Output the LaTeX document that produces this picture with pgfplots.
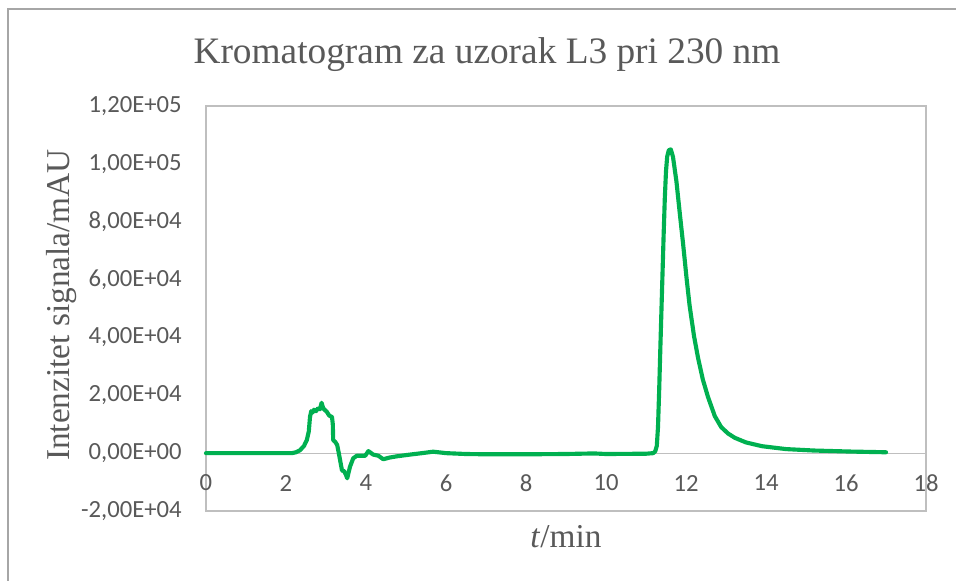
\documentclass[border=0pt]{standalone}
\usepackage{pgfplots}
\pgfplotsset{compat=1.18}
\usepackage{pgfplotstable}
\usepackage{fontspec}
\setmainfont{Liberation Serif}
\newfontfamily\carlito{Carlito}
\definecolor{linegreen}{HTML}{00B050}
\definecolor{axgray}{HTML}{BFBFBF}
\definecolor{txtgray}{HTML}{595959}
\definecolor{framegray}{HTML}{A6A6A6}
\pgfplotstableread{
t val
0 0
1 0
2 0
2.15 0
2.25 300
2.35 1000
2.45 2500
2.52 4500
2.57 7500
2.6 12500
2.63 14500
2.66 14000
2.7 15000
2.75 14500
2.8 15500
2.85 15200
2.89 17400
2.93 15500
2.98 14800
3.02 14300
3.08 13000
3.15 12500
3.17 10000
3.18 4500
3.23 3900
3.28 2800
3.32 0
3.36 -3000
3.40 -6000
3.45 -6200
3.5 -7500
3.53 -8700
3.6 -4700
3.68 -1800
3.77 -900
3.98 -900
4.06 700
4.18 -500
4.31 -900
4.43 -2100
4.6 -1500
4.77 -1100
5.1 -500
5.4 0
5.68 500
6.0 0
6.5 -300
7 -400
8 -400
9 -300
9.7 -100
10 -300
11 -200
11.18 0
11.23 600
11.27 2500
11.30 9000
11.33 22000
11.36 37000
11.40 56000
11.44 75000
11.47 88000
11.50 97500
11.53 102500
11.57 104700
11.62 105000
11.675 102400
11.76 94000
11.84 83500
11.93 72000
12.01 61000
12.09 51000
12.2 40500
12.3 33000
12.42 25500
12.55 19400
12.72 12800
12.88 9000
13.05 6800
13.22 5300
13.5 3700
13.9 2400
14.5 1400
15.2 900
16.1 550
17.0 300
}\chromdata
\begin{document}
\begin{tikzpicture}
\useasboundingbox (-154.5pt,-52.5pt) rectangle (562.5pt,383.25pt);
\draw[framegray, line width=1.1pt] (-148.5pt,-60pt) -- (-148.5pt,376.5pt) -- (570pt,376.5pt);
\begin{axis}[
  at={(0,0)}, anchor=south west,
  scale only axis,
  width=540pt, height=303.75pt,
  xmin=0, xmax=18, ymin=-20000, ymax=120000,
  scaled y ticks=false, scaled x ticks=false,
  axis line style={axgray, line width=0.9pt},
  major tick length=0pt,
  xtick={0,2,4,6,8,10,12,14,16,18},
  xticklabels={0,2,4,6,8,10,12,14,16,18},
  ytick={-20000,0,20000,40000,60000,80000,100000,120000},
  yticklabels={{-2,00E+04},{0,00E+00},{2,00E+04},{4,00E+04},{6,00E+04},{8,00E+04},{1,00E+05},{1,20E+05}},
  ticklabel style={font=\carlito\fontsize{18.5}{18.5}\selectfont, text=txtgray},
  xticklabel style={anchor=center, yshift=21pt, inner sep=0pt},
  yticklabel style={anchor=east, xshift=-18pt, inner sep=0pt},
  clip=false,
]
\draw[axgray, line width=0.9pt] (axis cs:0,0) -- (axis cs:18,0);
\addplot[linegreen, line width=3.1pt, line join=round, line cap=round, mark=none] table[x=t, y=val] {\chromdata};
\end{axis}
\node[text=txtgray, font=\fontsize{28}{28}\selectfont] at (210.75pt,342pt) {Kromatogram za uzorak L3 pri 230 nm};
\node[text=txtgray, font=\fontsize{25}{25}\selectfont, rotate=90] at (-108pt,154.5pt) {Intenzitet signala/mAU};
\node[text=txtgray, font=\fontsize{25}{25}\selectfont] at (270pt,-19.5pt) {\textit{t}/min};
\end{tikzpicture}
\end{document}
